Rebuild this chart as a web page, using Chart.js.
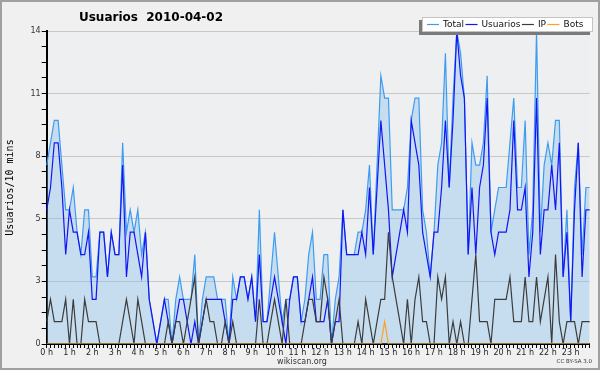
<!DOCTYPE html>
<html><head><meta charset="utf-8">
<script src="https://cdn.jsdelivr.net/npm/chart.js@4.4.1/dist/chart.umd.min.js"></script>
<style>html,body{margin:0;padding:0;background:#f0f0f0;}canvas{display:block;}</style>
</head><body>
<canvas id="c" width="600" height="370"></canvas>
<script>
const titleText = 'Usuarios  2010-04-02';
const yTitle = 'Usuarios/10 mins';
const hourLabels = ['0 h','1 h','2 h','3 h','4 h','5 h','6 h','7 h','8 h','9 h','10 h','11 h','12 h','13 h','14 h','15 h','16 h','17 h','18 h','19 h','20 h','21 h','22 h','23 h'];
const minuteLabels = ['00','10','20','30','40','50'];
const yMajorTicks = [0, 2.8, 5.6, 8.4, 11.2, 14];
const yTickLabels = ['0','3','5','8','11','14'];

const total = [
 8, 9,10,10, 8, 6, 6, 7, 5, 4,
 6, 6, 3, 3, 5, 5, 3, 5, 4, 4,
 9, 5, 6, 5, 6, 4, 5, 2, 1, 0,
 1, 2, 2, 0, 2, 3, 2, 2, 2, 4,
 0, 2, 3, 3, 3, 2, 2, 2, 0, 3,
 2, 3, 3, 2, 3, 1, 6, 1, 1, 3,
 5, 3, 1, 2, 2, 3, 3, 1, 2, 4,
 5, 2, 2, 4, 4, 0, 2, 3, 6, 4,
 4, 4, 5, 5, 6, 8, 4, 8,12,11,
11, 6, 6, 6, 6, 7,10,11,11, 6,
 5, 3, 5, 8, 9,13, 7,11,14,13,
11, 4, 9, 8, 8, 9,12, 5, 6, 7,
 7, 7, 9,11, 7, 7,10, 4, 6,14,
 5, 8, 9, 8,10,10, 3, 6, 1, 7,
 9, 4, 7, 7];
const usuarios = [
 6, 7, 9, 9, 7, 4, 6, 5, 5, 4,
 4, 5, 2, 2, 5, 5, 3, 5, 4, 4,
 8, 3, 5, 5, 4, 3, 5, 2, 1, 0,
 1, 2, 1, 0, 1, 2, 2, 1, 0, 1,
 0, 1, 2, 2, 2, 2, 2, 1, 0, 2,
 2, 3, 3, 2, 3, 1, 4, 1, 1, 2,
 3, 2, 1, 0, 2, 3, 3, 1, 1, 2,
 3, 1, 1, 1, 2, 0, 1, 1, 6, 4,
 4, 4, 4, 5, 4, 7, 4, 7,10, 8,
 6, 3, 4, 5, 6, 5,10, 9, 8, 5,
 4, 3, 5, 5, 7,10, 7,10,14,12,
11, 4, 7, 4, 7, 8,11, 5, 4, 5,
 5, 5, 6,10, 6, 6, 7, 3, 5,11,
 4, 6, 6, 8, 6, 9, 3, 5, 1, 6,
 9, 3, 6, 6];
const ip = [
 1, 2, 1, 1, 1, 2, 0, 2, 0, 0,
 2, 1, 1, 1, 0, 0, 0, 0, 0, 0,
 1, 2, 1, 0, 2, 1, 0, 0, 0, 0,
 0, 0, 1, 0, 1, 1, 0, 1, 2, 3,
 0, 1, 2, 1, 1, 0, 0, 1, 0, 1,
 0, 0, 0, 0, 0, 0, 2, 0, 0, 1,
 2, 1, 0, 2, 0, 0, 0, 0, 1, 2,
 2, 1, 1, 3, 2, 0, 1, 2, 0, 0,
 0, 0, 1, 0, 2, 1, 0, 1, 2, 2,
 5, 3, 2, 1, 0, 2, 0, 2, 3, 1,
 1, 0, 0, 3, 2, 3, 0, 1, 0, 1,
 0, 0, 2, 4, 1, 1, 1, 0, 2, 2,
 2, 2, 3, 1, 1, 1, 3, 1, 1, 3,
 1, 2, 3, 0, 4, 1, 0, 1, 1, 1,
 0, 1, 1, 1];
const bots = [
 0,0,0,0,0,0,0,0,0,0,
 0,0,0,0,0,0,0,0,0,0,
 0,0,0,0,0,0,0,0,0,0,
 0,0,0,0,0,0,0,0,0,0,
 0,0,0,0,0,0,0,0,0,0,
 0,0,0,0,0,0,0,0,0,0,
 0,0,0,0,0,0,0,0,0,0,
 0,0,0,0,0,0,0,0,0,0,
 0,0,0,0,0,0,0,0,0,1,
 0,0,0,0,0,0,0,0,0,0,
 0,0,0,0,0,0,0,0,0,0,
 0,0,0,0,0,0,0,0,0,0,
 0,0,0,0,0,0,0,0,0,0,
 0,0,0,0,0,0,0,0,0,0,
 0,0,0,0];

const categories = [];
hourLabels.forEach((h, hi) => minuteLabels.forEach(m => categories.push(String(hi).padStart(2,'0') + ':' + m)));

const yAllTicks = [];
for (let k = 0; k < yMajorTicks.length - 1; k++) {
  const a = yMajorTicks[k], b = yMajorTicks[k+1];
  for (let s = 0; s < 4; s++) yAllTicks.push(a + (b - a) * s / 4);
}
yAllTicks.push(yMajorTicks[yMajorTicks.length - 1]);
const majorIndex = v => yMajorTicks.findIndex(m => Math.abs(m - v) < 1e-6);

const decor = {
  id: 'decor',
  beforeDraw(chart) {
    const {ctx, chartArea: a} = chart;
    ctx.save();
    ctx.fillStyle = '#f0f0f0';
    ctx.fillRect(0, 0, chart.width, chart.height);
    ctx.fillStyle = '#eeeff1';
    ctx.fillRect(a.left, a.top, a.right - a.left, a.bottom - a.top);
    ctx.restore();
  },
  afterDraw(chart) {
    const ctx = chart.ctx;
    ctx.save();
    ctx.fillStyle = '#000';
    ctx.font = 'bold 12px "DejaVu Sans"';
    ctx.textAlign = 'center';
    ctx.textBaseline = 'alphabetic';
    ctx.fillText(titleText, 151, 21);

    ctx.font = '8px "DejaVu Sans"';
    ctx.fillStyle = '#333';
    ctx.textBaseline = 'middle';
    ctx.fillText('wikiscan.org', 302, 362);
    ctx.font = '5.5px "DejaVu Sans"';
    ctx.textAlign = 'right';
    ctx.fillText('CC BY-SA 3.0', 592, 362);

    // legend
    ctx.fillStyle = '#7a7a7a';
    ctx.fillRect(419, 20, 171, 15);
    ctx.fillStyle = '#ffffff';
    ctx.fillRect(422, 17, 171, 15);
    ctx.strokeStyle = '#c4c4c4';
    ctx.lineWidth = 1;
    ctx.strokeRect(422.5, 17.5, 170, 14);
    ctx.font = '9px "DejaVu Sans"';
    ctx.textAlign = 'left';
    ctx.textBaseline = 'middle';
    let x = 427;
    const ly = 24.5;
    chart.data.datasets.forEach(d => {
      ctx.strokeStyle = d.borderColor;
      ctx.lineWidth = 1.2;
      ctx.beginPath(); ctx.moveTo(x, ly); ctx.lineTo(x + 12, ly); ctx.stroke();
      x += 16;
      ctx.fillStyle = '#111';
      ctx.fillText(d.label, x, ly);
      x += ctx.measureText(d.label).width + 1.5;
    });

    ctx.strokeStyle = '#a0a0a0';
    ctx.lineWidth = 2;
    ctx.strokeRect(1, 1, chart.width - 2, chart.height - 2);
    ctx.restore();
  }
};

const lineBase = {pointRadius: 0, borderWidth: 1.2, tension: 0, fill: false};

new Chart(document.getElementById('c'), {
  type: 'line',
  data: {
    labels: categories,
    datasets: [
      Object.assign({}, lineBase, {label: 'Total', data: total, borderColor: '#3d9cf0', backgroundColor: 'rgba(122,189,239,0.35)', fill: 'origin', order: 3}),
      Object.assign({}, lineBase, {label: 'Usuarios', data: usuarios, borderColor: '#1414f5', order: 2}),
      Object.assign({}, lineBase, {label: 'IP', data: ip, borderColor: '#3c3c3c', order: 1}),
      Object.assign({}, lineBase, {label: 'Bots', data: bots, borderColor: '#ffa020', order: 0})
    ]
  },
  options: {
    responsive: false,
    animation: false,
    devicePixelRatio: 1,
    layout: {padding: {left: 4, right: 10.3, top: 31, bottom: 10}},
    plugins: {legend: {display: false}, title: {display: false}, tooltip: {enabled: false}},
    scales: {
      x: {
        type: 'category', offset: false, z: 1,
        grid: {display: true, drawOnChartArea: false, drawTicks: true, tickLength: 4, tickColor: '#000', tickWidth: 1},
        border: {display: true, color: '#000', width: 2},
        ticks: {autoSkip: false, maxRotation: 0, minRotation: 0, padding: 0, color: '#222',
          font: {family: 'DejaVu Sans', size: 8},
          callback: (v, i) => (i % 6 === 0 ? hourLabels[i / 6] : '')},
        afterFit: s => { s.height = 16; }
      },
      y: {
        min: 0, max: 14,
        afterBuildTicks: s => { s.ticks = yAllTicks.map(v => ({value: v})); },
        grid: {color: c => (c.tick && majorIndex(c.tick.value) >= 0 ? '#c8c8c8' : 'rgba(0,0,0,0)'),
          tickColor: '#000', tickLength: 5, drawTicks: true, lineWidth: 1},
        border: {display: true, color: '#000', width: 2},
        ticks: {autoSkip: false, padding: 1, color: '#333', font: {family: 'DejaVu Sans', size: 8},
          callback: v => { const k = majorIndex(v); return k >= 0 ? yTickLabels[k] : ''; }},
        title: {display: true, text: yTitle, color: '#000', padding: 0, font: {family: 'DejaVu Sans Mono', size: 10}},
        afterFit: s => { s.width = 42.7; }
      }
    }
  },
  plugins: [decor]
});
</script>
</body></html>
